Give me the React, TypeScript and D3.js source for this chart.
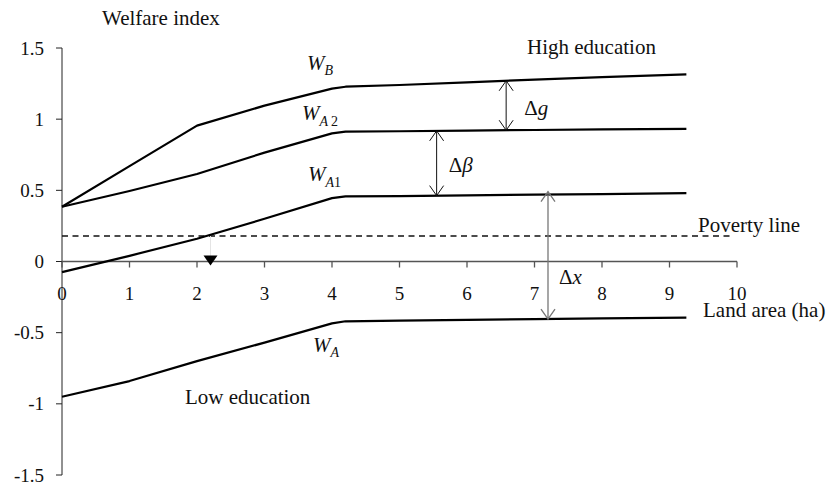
import React from "react";
import * as d3 from "d3";

const landArea = [0, 1, 2, 3, 4, 4.2, 5, 6, 7, 8, 9.25];
const wB = [0.385, 0.67, 0.955, 1.095, 1.215, 1.228, 1.24, 1.258, 1.278, 1.295, 1.315];
const wA2 = [0.385, 0.495, 0.615, 0.765, 0.9, 0.912, 0.915, 0.92, 0.924, 0.928, 0.932];
const wA1 = [-0.075, 0.04, 0.16, 0.3, 0.445, 0.457, 0.46, 0.465, 0.47, 0.474, 0.48];
const wA = [-0.95, -0.84, -0.7, -0.57, -0.435, -0.42, -0.415, -0.41, -0.405, -0.4, -0.395];

const povertyLine = 0.18;
const povertyEnd = 9.93;
const markerLand = 2.2;

const xTicks = [0, 1, 2, 3, 4, 5, 6, 7, 8, 9, 10];
const yTicks = [1.5, 1, 0.5, 0, -0.5, -1, -1.5];
const yTickLabels = ["1.5", "1", "0.5", "0", "-0.5", "-1", "-1.5"];

const gapG = 6.58;
const gapBeta = 5.55;
const gapX = 7.2;

const W = 830;
const H = 489;
const FONT = "'Liberation Serif', 'DejaVu Serif', serif";

export default function App() {
  const x = d3.scaleLinear().domain([0, 10]).range([62, 737]);
  const y = d3.scaleLinear().domain([-1.5, 1.5]).range([475, 48]);

  const line = d3
    .line<number>()
    .x((_, i) => x(landArea[i]))
    .y((d) => y(d))
    .curve(d3.curveLinear);

  const interp = (series: number[], v: number) => {
    const f = d3.scaleLinear().domain(landArea).range(series);
    return f(v);
  };

  const arrow = (xv: number, top: number, bottom: number, color: string, sw: number) => {
    const px = x(xv);
    const y1 = y(top);
    const y2 = y(bottom);
    const hw = 7;
    const hl = 10;
    return (
      <g stroke={color} strokeWidth={sw} fill="none">
        <line x1={px} x2={px} y1={y1} y2={y2} />
        <path d={`M${px - hw},${y1 + hl}L${px},${y1}L${px + hw},${y1 + hl}`} />
        <path d={`M${px - hw},${y2 - hl}L${px},${y2}L${px + hw},${y2 - hl}`} />
      </g>
    );
  };

  const y0 = y(0);
  const T = { fontFamily: FONT, fill: "#111" } as const;

  return (
    <svg
      width={W}
      height={H}
      style={{ position: "absolute", left: 0, top: 0, display: "block", background: "#fff" }}
    >
      <style>{`text, tspan { font-family: ${FONT}; }`}</style>
      {/* Axes */}
      <line x1={x(0)} x2={x(0)} y1={y(1.5)} y2={y(-1.5)} stroke="#222" strokeWidth={1} />
      {yTicks.map((t, i) => (
        <g key={"yt" + t}>
          <line x1={x(0) - 6} x2={x(0)} y1={y(t)} y2={y(t)} stroke="#222" strokeWidth={1} />
          <text {...T} x={44} y={y(t)} dy="0.35em" textAnchor="end" fontSize={19}>
            {yTickLabels[i]}
          </text>
        </g>
      ))}
      <line x1={x(0)} x2={x(10)} y1={y0} y2={y0} stroke="#555" strokeWidth={1.3} />
      {xTicks.map((t) => (
        <g key={"xt" + t}>
          <line x1={x(t)} x2={x(t)} y1={y0} y2={y0 + 6} stroke="#555" strokeWidth={1.3} />
          <text {...T} x={x(t)} y={y0 + 38} textAnchor="middle" fontSize={19}>
            {t}
          </text>
        </g>
      ))}

      {/* Poverty line */}
      <line
        x1={x(0)}
        x2={x(povertyEnd)}
        y1={y(povertyLine)}
        y2={y(povertyLine)}
        stroke="#111"
        strokeWidth={1.5}
        strokeDasharray="6,4.5"
      />
      <line x1={x(markerLand)} x2={x(markerLand)} y1={y(povertyLine)} y2={y0 - 5} stroke="#e4e4e4" strokeWidth={1} />
      <path
        d={`M${x(markerLand) - 7},${y0 - 6}L${x(markerLand) + 7},${y0 - 6}L${x(markerLand)},${y0 + 4}Z`}
        fill="#000"
      />

      {/* Welfare curves */}
      {[wB, wA2, wA1, wA].map((s, i) => (
        <path key={"s" + i} d={line(s) || ""} fill="none" stroke="#000" strokeWidth={2.2} strokeLinejoin="round" />
      ))}

      {/* Gap arrows */}
      {arrow(gapG, interp(wB, gapG), interp(wA2, gapG), "#111", 1)}
      {arrow(gapBeta, interp(wA2, gapBeta), interp(wA1, gapBeta), "#111", 1)}
      {arrow(gapX, interp(wA1, gapX) + 0.02, interp(wA, gapX), "#777", 1.3)}

      <text {...T} x={x(gapG) + 18} y={115} fontSize={21}>
        Δ<tspan fontStyle="italic">g</tspan>
      </text>
      <text {...T} x={x(gapBeta) + 12} y={172} fontSize={21}>
        Δ<tspan fontStyle="italic">β</tspan>
      </text>
      <text {...T} x={x(gapX) + 11} y={284} fontSize={21}>
        Δ<tspan fontStyle="italic">x</tspan>
      </text>

      {/* Series labels */}
      <text {...T} x={307} y={70} fontSize={21} fontStyle="italic">
        W<tspan fontSize={14} dy={5}>B</tspan>
      </text>
      <text {...T} x={302} y={120} fontSize={21} fontStyle="italic">
        W<tspan fontSize={14} dy={6}>A</tspan>
        <tspan fontSize={14} fontStyle="normal" dx={3}>2</tspan>
      </text>
      <text {...T} x={308} y={181} fontSize={21} fontStyle="italic">
        W<tspan fontSize={14} dy={6}>A</tspan>
        <tspan fontSize={14} fontStyle="normal">1</tspan>
      </text>
      <text {...T} x={313} y={352} fontSize={21} fontStyle="italic">
        W<tspan fontSize={14} dy={5}>A</tspan>
      </text>

      {/* Text annotations */}
      <text {...T} x={102} y={25} fontSize={21}>Welfare index</text>
      <text {...T} x={527} y={54} fontSize={21}>High education</text>
      <text {...T} x={185} y={404} fontSize={21}>Low education</text>
      <text {...T} x={698} y={232} fontSize={21}>Poverty line</text>
      <text {...T} x={703} y={317} fontSize={21}>Land area (ha)</text>
    </svg>
  );
}
